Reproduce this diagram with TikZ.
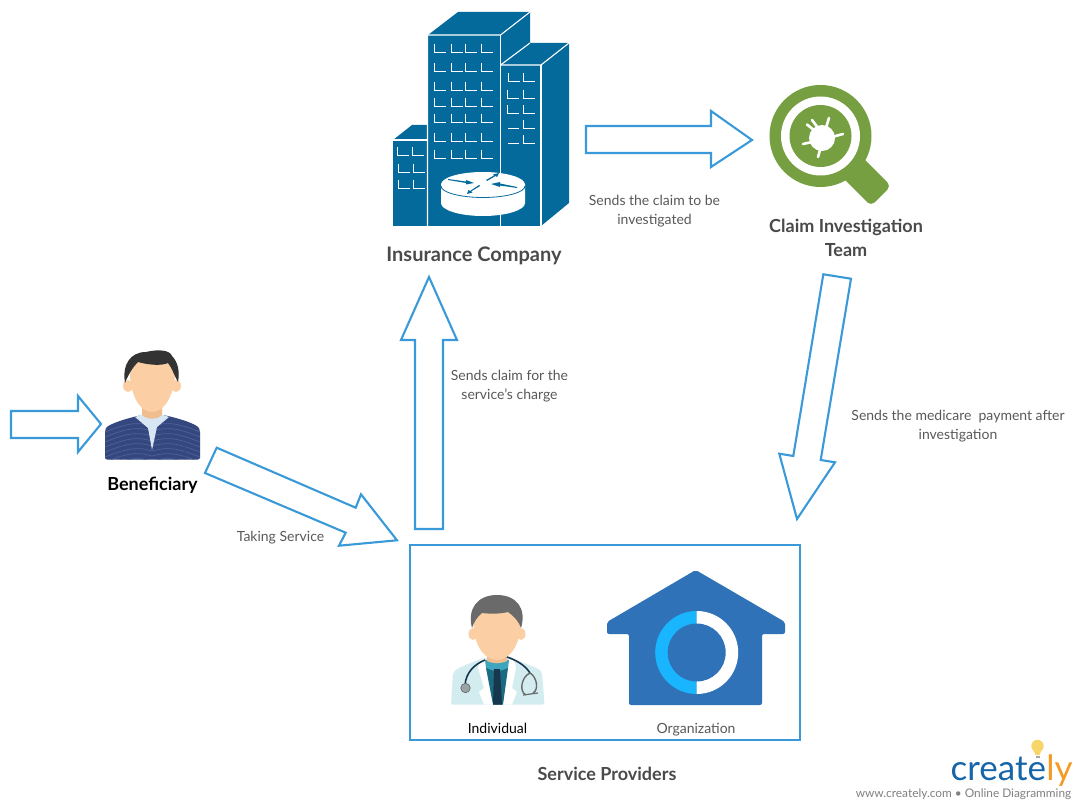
\documentclass[tikz,border=0pt]{standalone}
\usepackage{fontspec}
\setmainfont{Lato}
\usetikzlibrary{calc}
\definecolor{arrowblue}{HTML}{3A9AD9}
\definecolor{bldg}{HTML}{04699B}
\definecolor{zoomgreen}{HTML}{769F41}
\definecolor{txtgrey}{HTML}{595959}
\definecolor{titlegrey}{HTML}{4A4A4A}
\definecolor{skin}{HTML}{FBCFA3}
\definecolor{skindark}{HTML}{EFBD90}
\definecolor{hairdark}{HTML}{333333}
\definecolor{shirtblue}{HTML}{34477F}
\definecolor{stripe}{HTML}{4F6298}
\definecolor{tee}{HTML}{D8E6F3}
\definecolor{hairgrey}{HTML}{6A6A6A}
\definecolor{coat}{HTML}{D3ECF0}
\definecolor{teal}{HTML}{1A6B80}
\definecolor{collar}{HTML}{3FA5BE}
\definecolor{tie}{HTML}{17374F}
\definecolor{housefill}{HTML}{2F72B8}
\definecolor{ringcyan}{HTML}{1AB5FF}
\definecolor{logoblue}{HTML}{1565A8}
\definecolor{logoorange}{HTML}{F59B23}
\definecolor{bulb}{HTML}{F8D568}
\tikzset{
 bigarrow/.style={draw=arrowblue,line width=2.1pt,fill=white,line join=miter},
 lbl/.style={font=\fontsize{14}{19}\selectfont,text=txtgrey,align=center,inner sep=0pt},
 title/.style={font=\fontsize{18}{24}\selectfont\bfseries,text=titlegrey,align=center,inner sep=0pt},
 win/.style={draw=white,line width=1pt},
 wline/.style={draw=white,line width=1.1pt},
 stripeline/.style={draw=stripe,line width=0.7pt},
 bugleg/.style={white,line width=2.6pt,line cap=round}
}
\newcommand{\winL}[2]{\draw[win] (#1,#2) -- ++(0,9) -- ++(12,0);}
\begin{document}
\begin{tikzpicture}[x=1pt,y=-1pt]
\useasboundingbox (0,0) rectangle (1085,810);
\fill[white] (0,0) rectangle (1085,810);
% ===== Building =====
\fill[bldg] (428,35) -- (458,12) -- (530,12) -- (530,43) -- (569,43) -- (569,203) -- (541,226) -- (393,226) -- (393,140) -- (412,125) -- (428,125) -- cycle;
\draw[wline] (427.5,226) -- (427.5,35) -- (500.5,35) -- (530,12);
\draw[wline] (500.5,35) -- (500.5,226);
\draw[wline] (500.5,65) -- (530,43);
\draw[wline] (500.5,65) -- (541,65) -- (569,43);
\draw[wline] (541,65) -- (541,226);
\draw[wline] (393,140) -- (427.5,140);
% windows main
\foreach \y in {44,63,82,98,114,133,150}{
 \foreach \x in {434,451,465,481}{\winL{\x}{\y}}
}
% windows right
\foreach \x/\y in {508/73, 523/73, 507/90, 523/90, 507/105, 523/105, 523/120, 523/135}{\winL{\x}{\y}}
\draw[win] (508,129)--(519,129); \draw[win] (508,144)--(519,144);
% windows left
\foreach \x/\y in {397/147, 412/147, 398/164, 413/164, 398/180, 413/180}{\winL{\x}{\y}}
% router
\fill[white] (441,184.5) -- (441,203) arc[start angle=180,end angle=0,x radius=42,y radius=13] -- (525,184.5) -- cycle;
\fill[white] (483,184.5) ellipse[x radius=42,y radius=12.5];
\draw[bldg,line width=0.8pt] (441,186) arc[start angle=180,end angle=0,x radius=42,y radius=11.5];
\fill[bldg] (448,179) -- (466,181.5) -- (466,180) -- (474,183) -- (466,184.5) -- (466,183) -- (448,180) -- cycle;
\fill[bldg] (486,180) -- (494,175.5) -- (493,174.5) -- (499,173) -- (497,177) -- (495.5,176) -- (487,181) -- cycle;
\fill[bldg] (517,188) -- (500,185.5) -- (500,187) -- (491,184) -- (500,182) -- (500,183.5) -- (517,187) -- cycle;
\fill[bldg] (480,186) -- (471,191.5) -- (472.5,192.5) -- (467,194) -- (468.5,190) -- (470,191) -- (479,185) -- cycle;
% ===== Magnifier =====
\fill[zoomgreen,rounded corners=5pt] (825,160) -- (845,140) -- (891,186) -- (871,206) -- cycle;
\fill[zoomgreen] (820.5,136) circle[radius=51];
\fill[white] (820.5,136) circle[radius=39.5];
\fill[zoomgreen] (820.5,136) circle[radius=31];
\fill[white] (822,138) circle[radius=13];
\draw[bugleg] (815,131) -- (807,124.5);
\draw[bugleg] (818,128) -- (812,120);
\draw[bugleg] (826,128) -- (829,118);
\draw[bugleg] (832,137) -- (843,134);
\draw[bugleg] (812,142) -- (803,144);
\draw[bugleg] (820,150) -- (818,157);
% ===== Beneficiary =====
\fill[skin] (128,386) ellipse[x radius=5,y radius=6];
\fill[skin] (176,386) ellipse[x radius=5,y radius=6];
\begin{scope}
\clip[rounded corners=2pt] (105,459.5) -- (105,430) .. controls (108,424) and (128,418) .. (142,415) -- (163,415) .. controls (178,418) and (197,424) .. (200,430) -- (200,459.5) -- cycle;
\fill[shirtblue] (100,410) rectangle (205,465);
\foreach \d in {0,5,...,40}{
 \draw[stripeline] (100,{434+\d}) .. controls (125,{424+\d}) and (135,{421+\d}) .. (152,{426+\d}) .. controls (170,{421+\d}) and (180,{424+\d}) .. (205,{434+\d});
}
\draw[shirtblue,line width=0.8pt] (122,445)--(121,460);
\draw[shirtblue,line width=0.8pt] (184,445)--(185,460);
\end{scope}
\fill[tee] (135,417) -- (143,414) -- (160,414) -- (169,417) -- (157,427) -- (152,450) -- (148,428) -- cycle;
\fill[skindark] (142,405) -- (162,405) -- (162,415) .. controls (157,420) and (148,420) .. (142,415) -- cycle;
\fill[skin] (130,362) .. controls (128,395) and (140,412) .. (152,412) .. controls (164,412) and (177,395) .. (175,362) -- (152,355) -- cycle;
\fill[hairdark] (125,383) .. controls (122,365) and (130,352) .. (146,352) .. controls (158,349) and (170,350) .. (172,356) .. controls (178,362) and (180,372) .. (178,382) .. controls (174,375) and (172,368) .. (168,363) .. controls (162,366) and (148,365) .. (138,362) .. controls (133,367) and (128,375) .. (125,383) -- cycle;
% ===== Doctor =====
\fill[coat,rounded corners=2pt] (451,704.5) -- (453,673) .. controls (458,667) and (472,663) .. (483,658) -- (510,658) .. controls (522,663) and (538,667) .. (542,673) -- (544.5,704.5) -- cycle;
\fill[white] (480,660) -- (485,659) -- (493,704.5) -- (484,704.5) -- (479,692) -- (484,688) -- (478,668) -- cycle;
\fill[white] (514,660) -- (509,659) -- (503,704.5) -- (512,704.5) -- (517,692) -- (512,688) -- (516,668) -- cycle;
\fill[teal] (486,668) -- (508,668) -- (503,704.5) -- (493,704.5) -- cycle;
\fill[collar] (485,660) -- (509,660) -- (508,668) -- (497,672) -- (486,668) -- cycle;
\fill[tie] (494,669) -- (500,669) -- (502,704.5) -- (493,704.5) -- cycle;
\fill[skin] (473,634) ellipse[x radius=4.5,y radius=6];
\fill[skin] (521,634) ellipse[x radius=4.5,y radius=6];
\fill[skindark] (487,650) -- (507,650) -- (507,661) .. controls (500,664) and (494,664) .. (487,661) -- cycle;
\fill[skin] (474,615) .. controls (471,645) and (485,660) .. (497,660) .. controls (509,660) and (523,645) .. (520,615) -- (497,605) -- cycle;
\fill[hairgrey] (472,628) .. controls (467,608) and (478,595) .. (497,595) .. controls (516,595) and (527,608) .. (521,628) .. controls (519,622) and (514,616) .. (508,612) .. controls (500,614) and (490,614) .. (482,613) .. controls (477,617) and (474,622) .. (472,628) -- cycle;
\draw[tie,line width=1.6pt] (485,660) .. controls (475,664) and (466,672) .. (465,685);
\draw[tie,line width=1.6pt] (507,657) .. controls (516,660) and (525,665) .. (530,673);
\draw[hairgrey,line width=1.4pt] (530,673) .. controls (521,677) and (519,692) .. (526,695);
\draw[hairgrey,line width=1.4pt] (530,673) .. controls (537,677) and (539,690) .. (533,693);
\draw[hairgrey,line width=1.2pt] (523,695) -- (538,693);
\fill[hairgrey!55!coat,draw=hairgrey,line width=0.7pt] (465.5,688) circle[radius=4.7];
% ===== House =====
\fill[housefill,rounded corners=2pt] (695.7,570) -- (785,622) -- (785,634) -- (762,634) -- (762,705) -- (629,705) -- (629,634) -- (607,634) -- (607,622) -- cycle;
\fill[ringcyan] (696.7,611) arc[start angle=270,end angle=90,radius=41.5] -- cycle;
\fill[white] (696.7,611) arc[start angle=270,end angle=450,radius=41.5] -- cycle;
\fill[housefill] (696.7,652.5) circle[radius=29];
% ===== Service box =====
\node[draw=arrowblue,line width=2pt,outer sep=0pt,minimum width=390pt,minimum height=195pt,inner sep=0pt] (box) at (605,642.5) {};
% ===== Arrows =====
\draw[bigarrow] (586,126) -- (711,126) -- (711,111) -- (752,140) -- (711,167) -- (711,153) -- (586,153) -- cycle;
\draw[bigarrow] (823.3,274.3) -- (851,278.7) -- (820.7,460) -- (835,462.3) -- (797,519) -- (779.3,453.7) -- (793.3,456) -- cycle;
\draw[bigarrow] (415,529) -- (443,529) -- (443,340) -- (457,340) -- (429,277) -- (401,340) -- (415,340) -- cycle;
\draw[bigarrow] (11,411) -- (78,411) -- (78,396) -- (101,424) -- (78,452) -- (78,438) -- (11,438) -- cycle;
\draw[bigarrow] (216.7,447.7) -- (355.7,507.7) -- (361,494.3) -- (397,540.3) -- (339,545.7) -- (345.7,532.7) -- (205,473) -- cycle;
% ===== Labels =====
\node[title,font=\fontsize{20}{24}\selectfont\bfseries] (ins) at (474,256) {Insurance Company};
\node[title] (claim) at (846,238) {Claim Investigation\\Team};
\node[title,text=black] (ben) at (152.5,485) {Beneficiary};
\node[title] (sp) at (607,774) {Service Providers};
\node[lbl] (l1) at (654.5,211) {Sends the claim to be\\investigated};
\node[lbl] (l2) at (509.5,386) {Sends claim for the\\service's charge};
\node[lbl] (l3) at (958,426) {Sends the medicare\ \ payment after\\investigation};
\node[lbl] (l4) at (280.5,538) {Taking Service};
\node[lbl,text=black] (l5) at (497.5,728) {Individual};
\node[lbl] (l6) at (696,730) {Organization};
% ===== Logo =====
\fill[bulb] (1037.5,746) circle[radius=6.2];
\fill[bulb] (1033,749) -- (1042,749) -- (1039.5,755) -- (1035.5,755) -- cycle;
\fill[gray!70] (1035.5,755.5) rectangle (1039.5,758);
\node[inner sep=0pt,anchor=base west,font=\fontsize{35}{35}\selectfont,text=logoblue] (logo) at (950.5,780) {create};
\node[inner sep=0pt,anchor=base west,font=\fontsize{35}{35}\selectfont,text=logoorange] (logo2) at (logo.base east) {ly};
\node[inner sep=0pt,font=\fontsize{11.85}{14}\selectfont,text=gray] (url) at (963.5,794) {www.creately.com • Online Diagramming};
\end{tikzpicture}
\end{document}
